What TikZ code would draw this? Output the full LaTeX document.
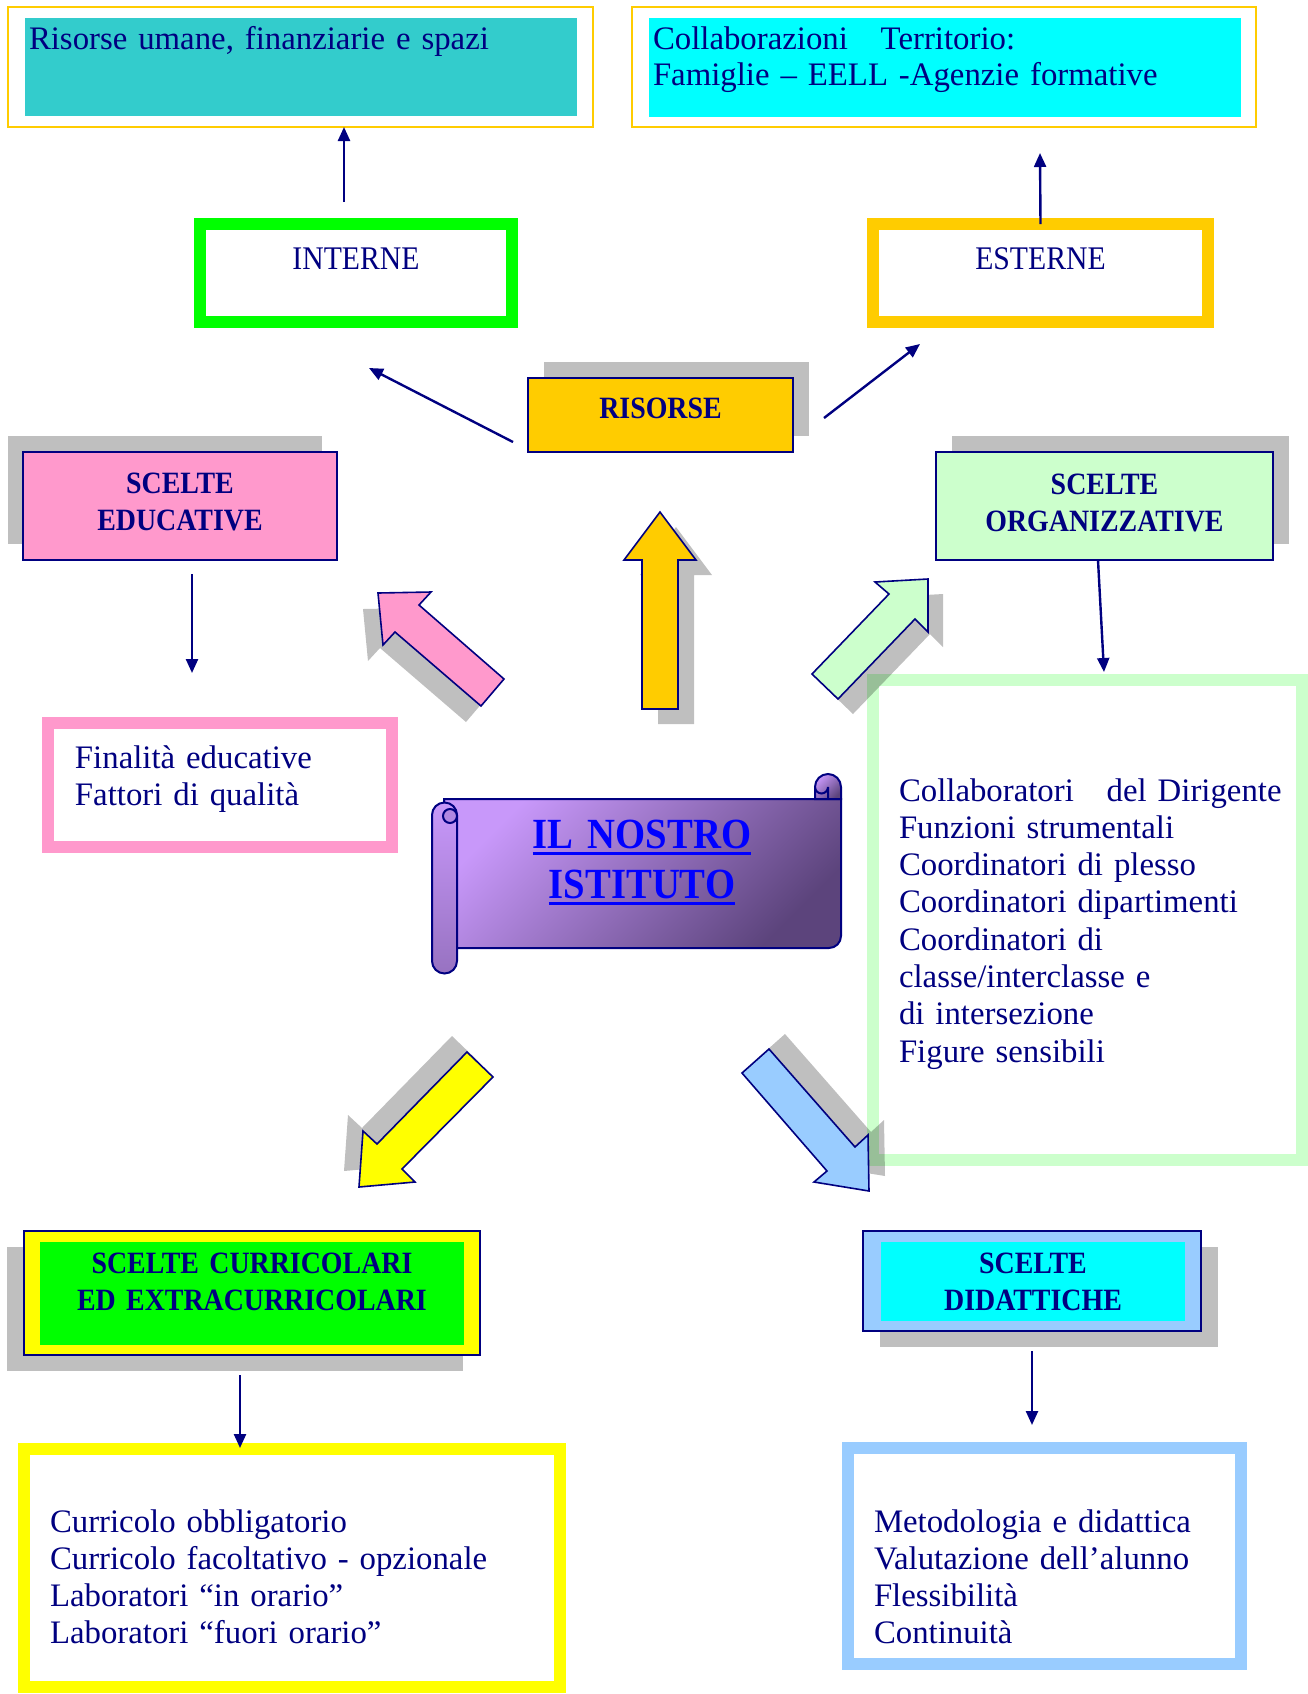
\documentclass[tikz,border=0pt]{standalone}
\usepackage{fontspec}
\setmainfont{Liberation Serif}
\newfontfamily\titlefamily[FakeStretch=0.9]{Liberation Serif}
\usetikzlibrary{arrows.meta,shadows}

\definecolor{navytxt}{HTML}{000080}
\definecolor{goldbox}{HTML}{FFCC00}
\definecolor{tealbox}{HTML}{33CCCC}
\definecolor{cyanbox}{HTML}{00FFFF}
\definecolor{limebox}{HTML}{00FF00}
\definecolor{pinkbox}{HTML}{FF99CC}
\definecolor{mintbox}{HTML}{CCFFCC}
\definecolor{yellowbox}{HTML}{FFFF00}
\definecolor{skybox}{HTML}{99CCFF}
\definecolor{titleblue}{HTML}{0000FF}
\definecolor{scrolllight}{RGB}{200,152,250}
\definecolor{scrolldark}{RGB}{92,68,124}

\newcommand\bodysize{\fontsize{16.4pt}{18.65pt}\selectfont}
\newcommand\titlesize{\titlefamily\fontsize{15.5pt}{18.75pt}\selectfont\bfseries}
\newcommand\undertitle[1]{\leavevmode\setbox0=\hbox{#1}\rlap{\rule[-3.5pt]{\wd0}{1.4pt}}\box0}

\tikzset{
  every node/.style={inner sep=0pt, outer sep=0pt, text=navytxt},
  link/.style={->, >={Triangle[length=7pt,width=6pt]}, draw=navytxt, line width=1.2pt},
  goldframe/.style={draw=goldbox, line width=0.8pt, fill=white},
  topbox/.style={align=left, font=\bodysize, text height=0pt},
  thickframe/.style={line width=6pt, fill=white, align=left, font=\bodysize, text height=0pt},
  titletext/.style={align=center, font=\titlesize, text height=0pt},
  titlebox/.style={titletext, draw=navytxt, line width=1pt},
  boxshadow/.style 2 args={drop shadow={shadow xshift=#1, shadow yshift=#2, fill=black, opacity=0.25}},
  shadowfill/.style={fill=black, fill opacity=0.25, draw=none},
  bigarrow/.style={draw=navytxt, line width=0.8pt, line join=miter},
  risarrow/.style={bigarrow, fill=goldbox},
  eduarrow/.style={bigarrow, fill=pinkbox},
  orgarrow/.style={bigarrow, fill=mintbox},
  curarrow/.style={bigarrow, fill=yellowbox},
  didarrow/.style={bigarrow, fill=skybox},
  scrollbody/.style={draw=navytxt, line width=1pt, top color=scrolllight, bottom color=scrolldark, shading angle=45},
  scrollroll/.style={draw=navytxt, line width=1pt, top color=scrolllight, bottom color=scrolllight!55!scrolldark},
}

\begin{document}
\begin{tikzpicture}[x=0.5pt, y=-0.5pt]
  \useasboundingbox (0,0) rectangle (1308,1694);

  \draw (300.5,67) node (intframe) [goldframe, minimum width=292.5pt, minimum height=60pt] {};
  \draw (301,67) node (intres) [topbox, fill=tealbox, minimum width=276pt, minimum height=49pt, text width=272pt, text depth=18pt] {Risorse umane, finanziarie e spazi};
  \draw (944,67) node (estframe) [goldframe, minimum width=312pt, minimum height=60pt] {};
  \draw (945,67.5) node (estres) [topbox, fill=cyanbox, minimum width=296pt, minimum height=49.5pt, text width=292pt, text depth=18.5pt, font=\fontsize{16.4pt}{18pt}\selectfont] {Collaborazioni\ \ \ Territorio:\\Famiglie – EELL -Agenzie formative};

  \draw (356,273) node (interne) [thickframe, draw=limebox, align=center, minimum width=156pt, minimum height=49pt, text width=156pt, text depth=4pt, font=\titlefamily\fontsize{16.5pt}{18pt}\selectfont] {INTERNE};
  \draw (1040.5,273) node (esterne) [thickframe, draw=goldbox, align=center, minimum width=167.5pt, minimum height=49pt, text width=167.5pt, text depth=4pt, font=\titlefamily\fontsize{16.5pt}{18pt}\selectfont] {ESTERNE};

  \draw (660.5,415) node (risorse) [titlebox, fill=goldbox, minimum width=132.5pt, minimum height=37pt, text width=132.5pt, text height=3pt, text depth=0pt, boxshadow={8pt}{8pt}] {RISORSE};
  \draw (180,506) node (educ) [titlebox, fill=pinkbox, minimum width=157pt, minimum height=54pt, text width=157pt, text depth=13pt, boxshadow={-7.5pt}{8pt}] {SCELTE\\EDUCATIVE};
  \draw (1104.5,506) node (organiz) [titlebox, fill=mintbox, minimum width=168.5pt, minimum height=54pt, text width=168.5pt, text depth=12pt, boxshadow={8pt}{8pt}] {SCELTE\\ORGANIZZATIVE};

  \draw (220,785) node (finalita) [thickframe, draw=pinkbox, minimum width=172pt, minimum height=62pt, text width=145pt, text depth=17pt] {Finalità educative\\Fattori di qualità};
  \draw (1087.5,920) node (organico) [thickframe, draw=mintbox, minimum width=214.5pt, minimum height=240pt, text width=188.5pt, text depth=119pt] {\mbox{Collaboratori\ \ \ del Dirigente}\\Funzioni strumentali\\Coordinatori di plesso\\Coordinatori dipartimenti\\Coordinatori di\\classe/interclasse e\\di intersezione\\Figure sensibili};

  \foreach \dx/\dy/\layer in {16/15/shadowfill, 0/0/risarrow}
    \draw[\layer, shift={(\dx,\dy)}] (660,512) -- (696,560) -- (678,560) -- (678,709) -- (642,709) -- (642,560) -- (624,560) -- cycle;
  \foreach \dx/\dy/\layer in {-15/16/shadowfill, 0/0/eduarrow}
    \draw[\layer, shift={(\dx,\dy)}] (378,593) -- (431,592) -- (419,605) -- (504,679) -- (481,706) -- (395,632) -- (383,645) -- cycle;
  \foreach \dx/\dy/\layer in {15/15/shadowfill, 0/0/orgarrow}
    \draw[\layer, shift={(\dx,\dy)}] (928,579) -- (928,632) -- (915,619) -- (838,699) -- (812,674) -- (889,594) -- (875,582) -- cycle;
  \foreach \dx/\dy/\layer in {-15/-16/shadowfill, 0/0/curarrow}
    \draw[\layer, shift={(\dx,\dy)}] (467,1052) -- (493,1077) -- (402,1169) -- (415,1182) -- (359,1187) -- (363,1131) -- (377,1144) -- cycle;
  \foreach \dx/\dy/\layer in {16/-15/shadowfill, 0/0/didarrow}
    \draw[\layer, shift={(\dx,\dy)}] (769,1049) -- (742,1073) -- (827,1171) -- (814,1182) -- (869,1191) -- (868,1135) -- (855,1147) -- cycle;

  \draw[scrollbody] (444,799) -- (841,799) -- (841,936) arc[start angle=0, end angle=90, radius=12] -- (444,948) -- cycle;
  \draw[scrollbody] (815,799) -- (815,787) arc[start angle=180, end angle=360, radius=13] -- (841,799) -- cycle;
  \draw[navytxt, line width=1pt] (815,787) arc[start angle=180, end angle=0, radius=6.5] -- (828,799);
  \draw[scrollroll] (432,815) -- (432,961) arc[start angle=180, end angle=0, radius=12.5] -- (457,815) arc[start angle=0, end angle=-180, radius=12.5] -- cycle;
  \draw[navytxt, line width=1pt, fill=scrolllight!80!scrolldark] (450,816) circle[radius=7];
  \draw (642,848) node (istituto) [anchor=base, align=center, text width=150pt, text=titleblue, font=\titlefamily\fontsize{21.5pt}{25pt}\selectfont\bfseries] {\undertitle{IL NOSTRO}\\\undertitle{ISTITUTO}};

  \draw (252,1293) node (curframe) [draw=navytxt, line width=1pt, fill=yellowbox, minimum width=228pt, minimum height=62pt, boxshadow={-8.5pt}{-8pt}] {};
  \draw (252,1293.5) node (curtit) [titletext, fill=limebox, minimum width=212pt, minimum height=51.5pt, text width=212pt, text depth=20.5pt] {SCELTE CURRICOLARI\\ED EXTRACURRICOLARI};
  \draw (1032,1281) node (didframe) [draw=navytxt, line width=1pt, fill=skybox, minimum width=169pt, minimum height=50pt, boxshadow={8.5pt}{-8pt}] {};
  \draw (1033,1281.5) node (didtit) [titletext, fill=cyanbox, minimum width=152pt, minimum height=39.5pt, text width=152pt, text depth=8.5pt] {SCELTE\\DIDATTICHE};

  \draw (292,1568) node (curlist) [thickframe, draw=yellowbox, minimum width=268pt, minimum height=119pt, text width=242pt, text depth=36pt] {Curricolo obbligatorio\\Curricolo facoltativo - opzionale\\Laboratori “in orario”\\Laboratori “fuori orario”};
  \draw (1044.5,1556) node (didlist) [thickframe, draw=skybox, minimum width=196.5pt, minimum height=108pt, text width=170.5pt, text depth=24pt] {Metodologia e didattica\\Valutazione dell’alunno\\Flessibilità\\Continuità};

  \draw[link] ([xshift=-6pt,yshift=11pt]interne.north) -- ([xshift=21.75pt]intframe.south);
  \draw[link] (esterne.north) -- ([xshift=48pt,yshift=-13pt]estframe.south);
  \draw[link] ([xshift=-7.5pt,yshift=-13.5pt]risorse.west) -- ([xshift=6.5pt,yshift=-23pt]interne.south);
  \draw[link] ([xshift=15.5pt,yshift=-1.5pt]risorse.east) -- ([xshift=-60.25pt,yshift=-11pt]esterne.south);
  \draw[link] ([xshift=6pt,yshift=-7pt]educ.south) -- ([xshift=-14pt,yshift=25pt]finalita.north);
  \draw[link] ([xshift=-3.25pt]organiz.south) -- ([xshift=8.25pt,yshift=4pt]organico.north);
  \draw[link] ([xshift=-6pt,yshift=-10pt]curframe.south) -- ([xshift=-26pt,yshift=0.5pt]curlist.north);
  \draw[link] ([yshift=-10pt]didframe.south) -- ([xshift=-6.25pt,yshift=11.5pt]didlist.north);
\end{tikzpicture}
\end{document}
